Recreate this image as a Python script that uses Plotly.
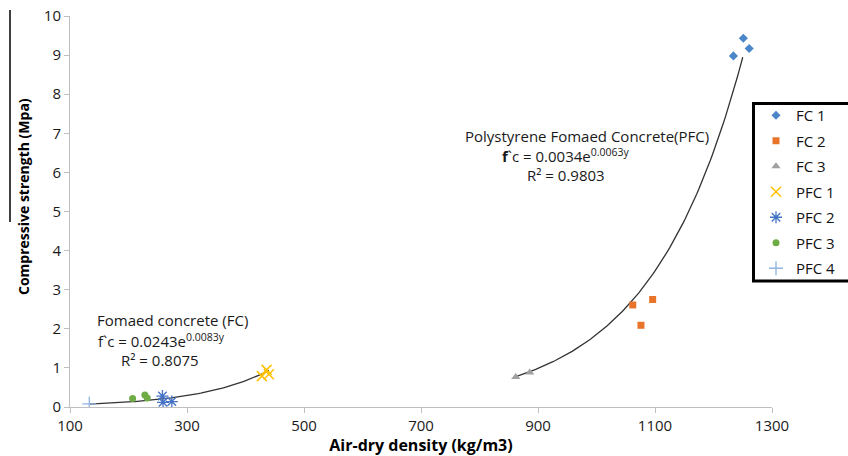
import numpy as np
import plotly.graph_objects as go

# ---- data ----
fc1_x = [1251, 1261, 1234]
fc1_y = [9.43, 9.17, 8.98]
fc2_x = [1062, 1096, 1076]
fc2_y = [2.61, 2.75, 2.09]
fc3_x = [862, 886]
fc3_y = [0.77, 0.88]
pfc1_x = [436, 428, 440]
pfc1_y = [0.95, 0.79, 0.84]
pfc2_x = [258, 259, 274]
pfc2_y = [0.28, 0.12, 0.14]
pfc3_x = [207, 228, 232]
pfc3_y = [0.22, 0.31, 0.23]
pfc4_x = [133]
pfc4_y = [0.08]

# trendline coefficients as printed on the chart
fc_a, fc_b = 0.0243, 0.0083
pfc_a, pfc_b = 0.0034, 0.0063
fc_range = (133, 440)
pfc_range = (860, 1250)

x_ticks = [100, 300, 500, 700, 900, 1100, 1300]
y_ticks = list(range(0, 11))

FONT = "'Open Sans', sans-serif"

fig = go.Figure()

# trendlines
xf = np.linspace(*fc_range, 80)
fig.add_trace(go.Scatter(x=xf, y=fc_a * np.exp(fc_b * xf), mode="lines",
                         line=dict(color="#333333", width=1.3), showlegend=False,
                         hoverinfo="skip"))
xp = np.linspace(*pfc_range, 120)
fig.add_trace(go.Scatter(x=xp, y=pfc_a * np.exp(pfc_b * xp), mode="lines",
                         line=dict(color="#333333", width=1.3), showlegend=False,
                         hoverinfo="skip"))

series = [
    ("FC 1", fc1_x, fc1_y, dict(symbol="diamond", size=7, color="#4A86C8")),
    ("FC 2", fc2_x, fc2_y, dict(symbol="square", size=7, color="#E8742A")),
    ("FC 3", fc3_x, fc3_y, dict(symbol="triangle-up", size=8, color="#A0A0A0")),
    ("PFC 1", pfc1_x, pfc1_y, dict(symbol="x-thin-open", size=10, color="#FFC000",
                                   line=dict(width=1.5, color="#FFC000"))),
    ("PFC 2", pfc2_x, pfc2_y, dict(symbol="asterisk-open", size=10, color="#4472C4",
                                   line=dict(width=1.3, color="#4472C4"))),
    ("PFC 3", pfc3_x, pfc3_y, dict(symbol="circle", size=7, color="#6FAC46")),
    ("PFC 4", pfc4_x, pfc4_y, dict(symbol="cross-thin-open", size=10, color="#8FB4E3",
                                   line=dict(width=1.3, color="#8FB4E3"))),
]
for i, (name, xs, ys, mk) in enumerate(series):
    fig.add_trace(go.Scatter(x=xs, y=ys, mode="markers", name=name, marker=mk,
                             legendgroup=f"g{i}"))

L, R, T, B = 70, 76, 16, 49
W, H = 848, 456
pw, ph = W - L - R, H - T - B

def px(xpix):
    return (xpix - L) / pw

def py(ypix):
    return (H - B - ypix) / ph

annotations = [
    dict(text="Fomaed concrete (FC)", x=px(172), y=py(320)),
    dict(text="f`c = 0.0243e<sup>0.0083y</sup>", x=px(161), y=py(340)),
    dict(text="R² = 0.8075", x=px(160), y=py(360)),
    dict(text="Polystyrene Fomaed Concrete(PFC)", x=px(587), y=py(136)),
    dict(text="<b>f</b>`c = 0.0034e<sup>0.0063y</sup>", x=px(566), y=py(155)),
    dict(text="R² = 0.9803", x=px(566), y=py(175)),
]
for a in annotations:
    a.update(xref="paper", yref="paper", showarrow=False, xanchor="center",
             yanchor="middle", font=dict(family=FONT, size=15, color="#1a1a1a"))
annotations.append(dict(text="<b>Compressive strength (Mpa)</b>", textangle=-90,
                        xref="paper", yref="paper", x=px(23), y=py(197),
                        showarrow=False, xanchor="center", yanchor="middle",
                        font=dict(family=FONT, size=14, color="#000000")))

fig.update_layout(
    width=W, height=H,
    margin=dict(l=L, r=R, t=T, b=B, pad=0, autoexpand=False),
    paper_bgcolor="white", plot_bgcolor="white",
    font=dict(family=FONT, size=15, color="#222222"),
    xaxis=dict(range=[100, 1300], tickvals=x_ticks, showgrid=False, zeroline=False,
               showline=True, linecolor="#BFBFBF", linewidth=1, ticks="outside",
               ticklen=5, tickcolor="#BFBFBF", automargin=False,
               tickfont=dict(family=FONT, size=15, color="#1a1a1a"),
               title=dict(text="<b>Air-dry density (kg/m3)</b>", standoff=4,
                          font=dict(family=FONT, size=16, color="#000000"))),
    yaxis=dict(range=[0, 10], tickvals=y_ticks, showgrid=False, zeroline=False,
               showline=True, linecolor="#BFBFBF", linewidth=1, ticks="outside",
               ticklen=5, tickcolor="#BFBFBF", automargin=False,
               tickfont=dict(family=FONT, size=15, color="#1a1a1a")),
    legend=dict(x=px(756), y=py(99), xanchor="left", yanchor="top",
                bgcolor="rgba(0,0,0,0)", borderwidth=0, tracegroupgap=3,
                font=dict(family=FONT, size=15, color="#111111")),
    annotations=annotations,
    shapes=[
        dict(type="rect", xref="paper", yref="paper", x0=px(753.5), x1=px(870),
             y0=py(281), y1=py(103.5), line=dict(color="#000000", width=3)),
        dict(type="line", xref="paper", yref="paper", x0=px(10), x1=px(10),
             y0=py(222), y1=py(10), line=dict(color="#000000", width=1.5)),
    ],
)

fig.write_html("out.html", config={"displayModeBar": False},
               post_script="document.body.style.margin='0';")
